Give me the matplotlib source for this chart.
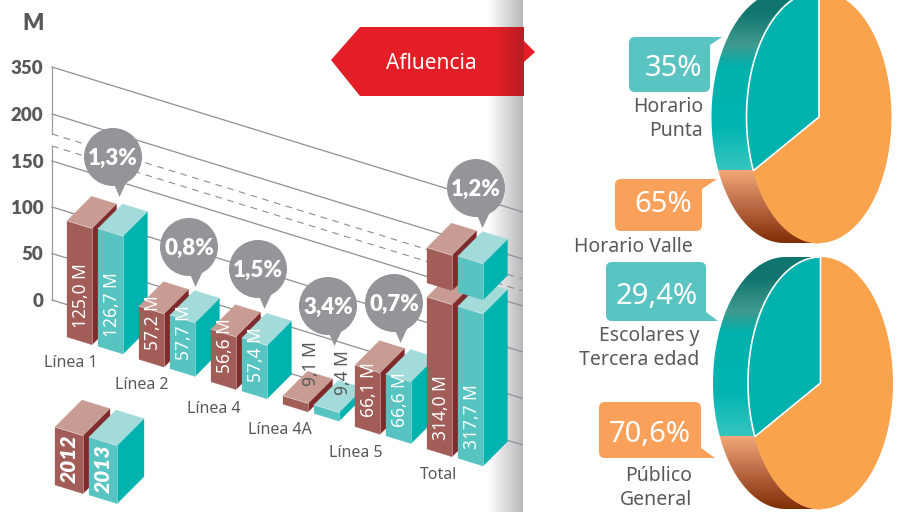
import numpy as np
import matplotlib
matplotlib.use("Agg")
import matplotlib.pyplot as plt
from matplotlib.patches import Polygon, Circle, FancyBboxPatch
from matplotlib.colors import LinearSegmentedColormap

# ---------- data ----------
categories = ["Línea 1", "Línea 2", "Línea 4", "Línea 4A", "Línea 5", "Total"]
values_2012 = [125.0, 57.2, 56.6, 9.1, 66.1, 314.0]
values_2013 = [126.7, 57.7, 57.4, 9.4, 66.6, 317.7]
changes = ["1,3%", "0,8%", "1,5%", "3,4%", "0,7%", "1,2%"]
y_ticks = [0, 50, 100, 150, 200, 350]
legend_years = ["2012", "2013"]
pie1_labels = ["35%", "65%"]
pie2_labels = ["29,4%", "70,6%"]
# both pies are drawn with the same slice in the source graphic
pie_drawn_share = [32, 32]

# ---------- layout ----------
W, H = 899, 512
FONT = "Noto Sans"
BOLD = "Lato"
GREY = "#58595B"
plt.rcParams["font.family"] = FONT

fig = plt.figure(figsize=(W / 100, H / 100), dpi=100)
ax = fig.add_axes([0, 0, 1, 1])
ax.axis("off")

def hgrad(x0, x1, y0, y1, c0, c1, clip=None, z=1):
    cm = LinearSegmentedColormap.from_list("g", [c0, c1])
    im = ax.imshow(np.linspace(0, 1, 256)[None, :], extent=[x0, x1, y1, y0], cmap=cm,
                   aspect="auto", zorder=z, interpolation="bilinear")
    if clip is not None:
        im.set_clip_path(clip)
    return im

def vgrad(x0, x1, y0, y1, stops, clip, z=1):
    cm = LinearSegmentedColormap.from_list("g", stops)
    im = ax.imshow(np.linspace(0, 1, 256)[:, None], extent=[x0, x1, y1, y0], cmap=cm,
                   aspect="auto", zorder=z, interpolation="bilinear")
    im.set_clip_path(clip)
    return im

# side panel shading
hgrad(488, 523, 0, H, "#FFFFFF", "#B7B8BB", z=1)

# ---------- oblique projection ----------
SLOPE = 0.308
AX_X, AX_Y0 = 52, 300
PX_PER_M = 0.93
X_END = 522
tick_px = [0, 46.5, 93, 139, 186, 233]
BREAK_Y = (134, 146)

z = 2
for tv, tp in zip(y_ticks, tick_px):
    y0 = AX_Y0 - tp
    ax.plot([AX_X, X_END], [y0, y0 + (X_END - AX_X) * SLOPE], color="#8E8F92", lw=0.9, zorder=z)
    ax.text(43.5, y0 + 1.5, str(tv), ha="right", va="center", fontsize=13.5, family=BOLD,
            fontweight="heavy", color=GREY, zorder=z)
for by in BREAK_Y:
    ax.plot([AX_X, X_END], [by, by + (X_END - AX_X) * SLOPE], color="#8E8F92", lw=0.8,
            ls=(0, (6, 5)), zorder=z)
ax.plot([AX_X, AX_X], [AX_Y0 - tick_px[-1], BREAK_Y[0]], color="#9A9B9E", lw=0.9, zorder=z)
ax.plot([AX_X, AX_X], [BREAK_Y[1], AX_Y0], color="#9A9B9E", lw=0.9, zorder=z)
ax.text(33, 23, "M", ha="center", va="center", fontsize=16, family=BOLD, fontweight="heavy", color=GREY)

# ---------- bars ----------
GROUP_DX, GROUP_DY = 72, 22.4
SERIES_DX, SERIES_DY = 31, 9.3
ORIGIN = (67, 337)
BAR_W = 25
COL_2012 = dict(front="#A25D58", top="#C89B93", side="#7F2B2B")
COL_2013 = dict(front="#58C4C2", top="#A2DBD9", side="#00B3AF")

def box(x, yb, h, w, d, col, z):
    dy = w * SLOPE
    fr = [(x, yb), (x + w, yb + dy), (x + w, yb + dy - h), (x, yb - h)]
    si = [(x + w, yb + dy), (x + w + d, yb + dy - d), (x + w + d, yb + dy - d - h), (x + w, yb + dy - h)]
    to = [(x, yb - h), (x + w, yb + dy - h), (x + w + d, yb + dy - h - d), (x + d, yb - h - d)]
    ax.add_patch(Polygon(si, closed=True, fc=col["side"], ec=col["side"], lw=0.2, zorder=z))
    ax.add_patch(Polygon(fr, closed=True, fc=col["front"], ec=col["front"], lw=0.2, zorder=z))
    ax.add_patch(Polygon(to, closed=True, fc=col["top"], ec=col["top"], lw=0.2, zorder=z))
    ax.plot([x + w, x + w], [yb + dy, yb + dy - h], color="#FFFFFF", alpha=0.45, lw=0.6, zorder=z)
    ax.plot([x, x + w], [yb - h, yb + dy - h], color="#FFFFFF", alpha=0.45, lw=0.6, zorder=z)

# the Total bars are broken: part below the break at true scale, the rest compressed
BAR_BREAK_M = 163.5
BAR_GAP = 14
UPPER_SCALE = 0.235

z = 3
for i in range(len(categories)):
    gx = ORIGIN[0] + GROUP_DX * i
    gy = ORIGIN[1] + GROUP_DY * i
    for s, (vals, col) in enumerate(((values_2012, COL_2012), (values_2013, COL_2013))):
        v = vals[i]
        x = gx + SERIES_DX * s
        y = gy + SERIES_DY * s
        if v > BAR_BREAK_M:
            low = BAR_BREAK_M * PX_PER_M
            up = (v - BAR_BREAK_M) * UPPER_SCALE
            box(x, y, low, BAR_W, 24.5, col, z); z += 0.01
            box(x, y - low - BAR_GAP, up, BAR_W, 24.5, col, z); z += 0.01
        else:
            box(x, y, v * PX_PER_M, BAR_W, 24.5, col, z); z += 0.01
        txt = f"{v:.1f}".replace(".", ",") + " M"
        short = v < 20
        ax.text(x + BAR_W / 2 + (16 if short else 1.5), y + BAR_W * SLOPE / 2 - (22 if short else 13), txt,
                rotation=90, ha="center", va="bottom", fontsize=12.5,
                color=GREY if short else "#FFFFFF", zorder=6)
        z += 0.01

# category labels
cat_xy = [(71, 361), (142, 383), (214, 407), (280, 428), (356, 451), (439, 473)]
for c, (cx, cy) in zip(categories, cat_xy):
    ax.text(cx, cy + 2, c, ha="center", va="center", fontsize=11.5, color=GREY, zorder=6)

# change bubbles
bubble_xy = [(113, 157), (189, 247), (258, 269), (328, 306), (394, 303), (476, 188)]
R = 29
for t, (cx, cy) in zip(changes, bubble_xy):
    ax.add_patch(Circle((cx, cy), R, fc="#939598", ec="none", zorder=7))
    ax.add_patch(Polygon([(cx + 1, cy + 27), (cx + 6.5, cy + 40), (cx + 14, cy + 24)],
                         closed=True, fc="#939598", ec="none", zorder=7))
    ax.text(cx, cy + 1.5, t, ha="center", va="center", fontsize=16, family=BOLD, fontweight="heavy",
            color="#FFFFFF", zorder=8)

# legend blocks
leg = [(55, 485, COL_2012), (89, 495, COL_2013)]
for (x, y, col), yr in zip(leg, legend_years):
    box(x, y, 58, 28, 27, col, 8)
    ax.text(x + 14, y + 3 - 29, yr, rotation=90, ha="center", va="center", fontsize=15,
            family=BOLD, fontweight="heavy", style="italic", color="#FFFFFF", zorder=9)

# ---------- banner ----------
banner = [(331, 60), (360, 27), (524, 27), (524, 96), (360, 96)]
ax.add_patch(Polygon([(524, 41), (535, 52), (524, 62)], closed=True, fc="#E31E26", ec="none", zorder=4))
bp = Polygon(banner, closed=True, fc="#E31E26", ec="none", zorder=4)
ax.add_patch(bp)
hgrad(495, 524, 27, 96, "#E31E26", "#B81E24", clip=Polygon(banner, closed=True, transform=ax.transData), z=4.1)
ax.text(431, 63.5, "Afluencia", ha="center", va="center", fontsize=15, color="#FFFFFF", zorder=5)

# ---------- pies ----------
TEAL = "#00B2AE"
ORANGE = "#F9A44C"
TEAL_STOPS = [(0, "#0E7570"), (0.12, "#12766F"), (0.3, "#3F9A8F"), (0.42, "#00B0AC"), (0.75, "#00B5B2"), (1, "#38C5BF")]
ORANGE_STOPS = [(0, "#F2A878"), (0.45, "#BE6E48"), (1, "#7F2D05")]

def pie3d(cx, cy, share):
    rx, ry, dx = 72.5, 126, -35
    t_end = 90 + share * 3.6
    def pt(deg, shift=0):
        r = np.radians(deg)
        return cx + shift + rx * np.cos(r), cy - ry * np.sin(r)
    arc = lambda a, b, s=0: np.array(pt(np.linspace(a, b, 120), s)).T
    band = np.vstack([arc(90, 270), arc(270, 90, dx)])
    split_y = pt(t_end)[1]
    top = cy - ry
    clip1 = Polygon(band, closed=True, transform=ax.transData)
    clip2 = Polygon(band, closed=True, transform=ax.transData)
    vgrad(cx + dx - rx - 2, cx + 2, top, split_y, TEAL_STOPS, clip1, z=2)
    vgrad(cx + dx - rx - 2, cx + 2, split_y, cy + ry, ORANGE_STOPS, clip2, z=2)
    orange = np.vstack([[(cx, cy)], arc(t_end, 450)])
    teal = np.vstack([[(cx, cy)], arc(90, t_end)])
    ax.add_patch(Polygon(orange, closed=True, fc=ORANGE, ec="none", zorder=3))
    ax.add_patch(Polygon(teal, closed=True, fc=TEAL, ec="#FFFFFF", lw=1.2, zorder=3.1))
    ax.plot(*arc(t_end, 270).T, color=ORANGE, lw=0.8, zorder=3)

pie3d(819, 117, pie_drawn_share[0])
pie3d(820.5, 383, pie_drawn_share[1])

# callouts
TEAL_BOX = "#5AC4C2"
ORANGE_BOX = "#F9A15B"
callouts = [
    (629, 37, 710, 92, TEAL_BOX, [(704, 37), (722, 37), (710, 45)], pie1_labels[0], 702, 68),
    (615, 179, 702, 231, ORANGE_BOX, [(696, 179), (717, 179), (702, 189)], pie1_labels[1], 692, 205),
    (606, 262, 706, 321, TEAL_BOX, [(706, 312), (718, 321), (698, 321)], pie2_labels[0], 698, 297),
    (599, 402, 701, 458, ORANGE_BOX, [(701, 448), (715, 458), (695, 458)], pie2_labels[1], 691, 435),
]
for x0, y0, x1, y1, c, tail, t, tx, ty in callouts:
    ax.add_patch(FancyBboxPatch((x0 + 6, y0 + 6), x1 - x0 - 12, y1 - y0 - 12,
                                boxstyle="round,pad=6,rounding_size=6", fc=c, ec="none", zorder=4))
    ax.add_patch(Polygon(tail, closed=True, fc=c, ec="none", zorder=4))
    ax.text(tx, ty, t, ha="right", va="center", fontsize=21, color="#FFFFFF", zorder=5)

pie_text = [("Horario", 703, 107), ("Punta", 703, 131), ("Horario Valle", 693, 247),
            ("Escolares y", 699, 336), ("Tercera edad", 699, 360),
            ("Público", 692, 476), ("General", 692, 500)]
for t, x, y in pie_text:
    ax.text(x, y, t, ha="right", va="center", fontsize=14, color=GREY, zorder=5)

ax.set_xlim(0, W)
ax.set_ylim(H, 0)
fig.savefig("out.png", dpi=100)
